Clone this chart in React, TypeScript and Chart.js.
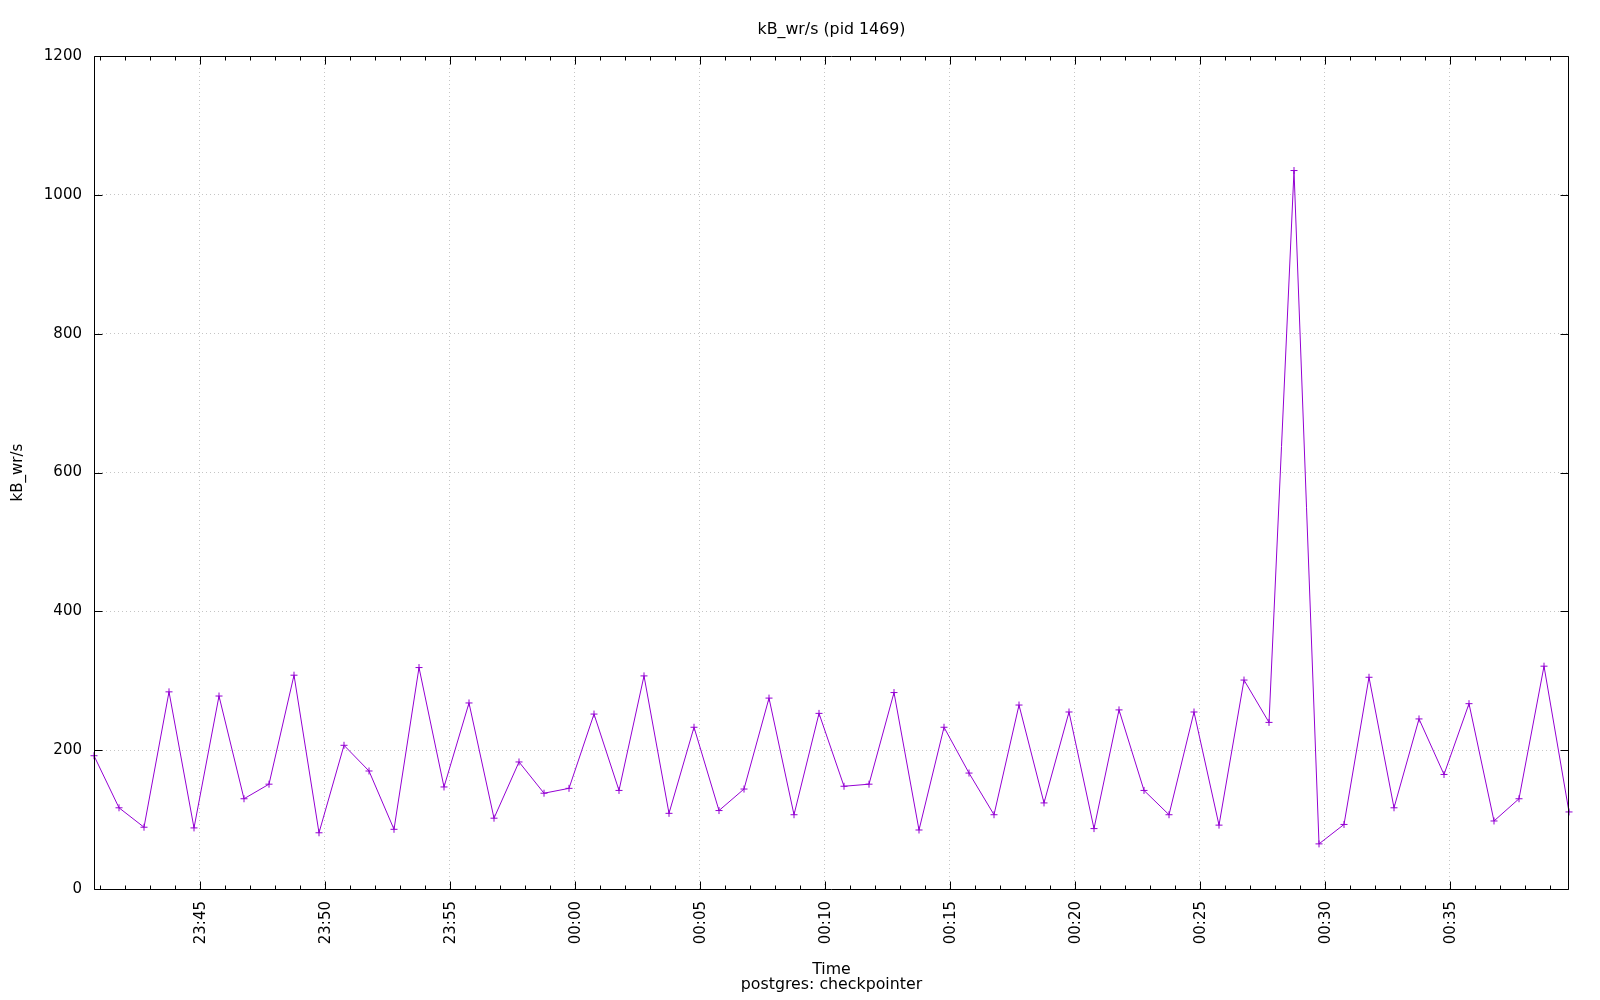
import React, { useEffect, useRef } from "react";
import { Chart, registerables } from "chart.js";

Chart.register(...registerables);

const times: string[] = [
  "23:40:46", "23:41:46", "23:42:46", "23:43:46", "23:44:46", "23:45:46", "23:46:46", "23:47:46", "23:48:46", "23:49:46",
  "23:50:46", "23:51:46", "23:52:46", "23:53:46", "23:54:46", "23:55:46", "23:56:46", "23:57:46", "23:58:46", "23:59:46",
  "00:00:46", "00:01:46", "00:02:46", "00:03:46", "00:04:46", "00:05:46", "00:06:46", "00:07:46", "00:08:46", "00:09:46",
  "00:10:46", "00:11:46", "00:12:46", "00:13:46", "00:14:46", "00:15:46", "00:16:46", "00:17:46", "00:18:46", "00:19:46",
  "00:20:46", "00:21:46", "00:22:46", "00:23:46", "00:24:46", "00:25:46", "00:26:46", "00:27:46", "00:28:46", "00:29:46",
  "00:30:46", "00:31:46", "00:32:46", "00:33:46", "00:34:46", "00:35:46", "00:36:46", "00:37:46", "00:38:46", "00:39:46",
];

const kbWrPerSec: number[] = [
  192, 117, 89, 284, 88, 278, 130, 151, 308, 81,
  207, 170, 86, 319, 147, 268, 102, 183, 138, 145,
  252, 142, 307, 109, 233, 113, 144, 275, 107, 253,
  148, 151, 283, 85, 233, 167, 107, 265, 124, 255,
  87, 258, 142, 107, 255, 92, 301, 240, 1035, 65,
  93, 305, 117, 245, 165, 267, 98, 130, 321, 111,
];

const yTicks: number[] = [0, 200, 400, 600, 800, 1000, 1200];

const chartTitle = "kB_wr/s (pid 1469)";
const yTitle = "kB_wr/s";
const xTitle = ["Time", "postgres: checkpointer"];

// seconds relative to midnight (negative before midnight)
function toSec(t: string): number {
  const [h, m, s] = t.split(":").map(Number);
  let v = h * 3600 + m * 60 + s;
  if (v > 12 * 3600) v -= 24 * 3600;
  return v;
}

function fmt(v: number): string {
  const mins = ((Math.round(v / 60) % 1440) + 1440) % 1440;
  const hh = Math.floor(mins / 60);
  const mm = mins % 60;
  return String(hh).padStart(2, "0") + ":" + String(mm).padStart(2, "0");
}

const FONT = "'DejaVu Sans', sans-serif";
const LINE_COLOR = "#9400d3";
const GRID_COLOR = "rgba(150,150,150,0.55)";
const TITLE_SIZE = 15.8;

const frameTicks = {
  id: "frameTicks",
  afterDraw(chart: any) {
    const { ctx, chartArea } = chart;
    const { left, right, top, bottom } = chartArea;
    const xs = chart.scales.x;
    const ys = chart.scales.y;
    const L = Math.round(left) + 0.5;
    const R = Math.round(right) - 0.5;
    const T = Math.round(top) + 0.5;
    const B = Math.round(bottom) + 0.5;
    ctx.save();
    ctx.strokeStyle = "#000";
    ctx.lineWidth = 1;
    ctx.beginPath();
    for (const t of xs.ticks) {
      const px = Math.round(xs.getPixelForValue(t.value)) + 0.5;
      const len = Math.abs(t.value % 300) === 0 ? 8 : 4;
      ctx.moveTo(px, B);
      ctx.lineTo(px, B - len);
      ctx.moveTo(px, T);
      ctx.lineTo(px, T + len);
    }
    for (const t of ys.ticks) {
      const py = Math.round(ys.getPixelForValue(t.value)) + 0.5;
      ctx.moveTo(L, py);
      ctx.lineTo(L + 8, py);
      ctx.moveTo(R, py);
      ctx.lineTo(R - 8, py);
    }
    ctx.stroke();
    ctx.beginPath();
    ctx.rect(L, T, R - L, B - T);
    ctx.stroke();
    ctx.restore();
  },
};

export default function App() {
  const ref = useRef<HTMLCanvasElement | null>(null);

  useEffect(() => {
    if (!ref.current) return;
    const xVals = times.map(toSec);
    const data = xVals.map((x, i) => ({ x, y: kbWrPerSec[i] }));
    const xMin = xVals[0];
    const xMax = xVals[xVals.length - 1];

    const chart = new Chart(ref.current, {
      type: "line",
      data: {
        datasets: [
          {
            label: yTitle,
            data,
            borderColor: LINE_COLOR,
            backgroundColor: LINE_COLOR,
            borderWidth: 1,
            pointStyle: "cross",
            pointRadius: 3.5,
            pointBorderWidth: 1,
            pointBorderColor: LINE_COLOR,
            tension: 0,
            fill: false,
            clip: false as any,
          },
        ],
      },
      plugins: [frameTicks],
      options: {
        animation: false,
        responsive: false,
        devicePixelRatio: 1,
        layout: { padding: { left: 0, right: 31, top: 0, bottom: 0 } },
        plugins: {
          legend: { display: false },
          tooltip: { enabled: false },
          title: {
            display: true,
            fullSize: false,
            text: chartTitle,
            color: "#000",
            font: { family: FONT, size: TITLE_SIZE, weight: "normal", lineHeight: 18 / TITLE_SIZE },
            padding: { top: 21, bottom: 17 },
          },
        },
        scales: {
          x: {
            type: "linear",
            min: xMin,
            max: xMax,
            afterBuildTicks(scale: any) {
              const ticks: any[] = [];
              const start = Math.ceil(xMin / 60) * 60;
              for (let v = start; v <= xMax; v += 60) ticks.push({ value: v });
              scale.ticks = ticks;
            },
            afterFit(scale: any) {
              scale.height = 111;
            },
            ticks: {
              autoSkip: false,
              minRotation: 90,
              maxRotation: 90,
              padding: 12,
              labelOffset: 1.5,
              color: "#000",
              font: { family: FONT, size: 15 },
              callback: (v: any) => (Math.abs(Number(v) % 300) === 0 ? fmt(Number(v)) : ""),
            },
            grid: {
              drawTicks: false,
              color: (c: any) =>
                c.tick && Math.abs(c.tick.value % 300) === 0 ? GRID_COLOR : "rgba(0,0,0,0)",
              lineWidth: 1,
            },
            border: { display: false, dash: [1, 3] },
            title: {
              display: true,
              text: xTitle,
              color: "#000",
              font: { family: FONT, size: TITLE_SIZE, lineHeight: 15 / TITLE_SIZE },
              padding: { top: 0, bottom: 7.5 },
            },
          },
          y: {
            type: "linear",
            min: 0,
            max: 1200,
            afterBuildTicks(scale: any) {
              scale.ticks = yTicks.map((v) => ({ value: v }));
            },
            afterFit(scale: any) {
              scale.width = 94;
            },
            ticks: {
              padding: 12,
              color: "#000",
              font: { family: FONT, size: 15 },
              callback: (v: any) => String(v),
            },
            grid: {
              drawTicks: false,
              color: GRID_COLOR,
              lineWidth: 1,
            },
            border: { display: false, dash: [1, 3] },
            title: {
              display: true,
              text: yTitle,
              color: "#000",
              font: { family: FONT, size: 15, lineHeight: 1.2 },
              padding: { top: 9, bottom: 0 },
            },
          },
        },
      },
    });
    return () => chart.destroy();
  }, []);

  return (
    <div style={{ position: "fixed", left: 0, top: 0, width: 1600, height: 1000, background: "#fff" }}>
      <canvas ref={ref} width={1600} height={1000} style={{ width: 1600, height: 1000, display: "block" }} />
    </div>
  );
}
